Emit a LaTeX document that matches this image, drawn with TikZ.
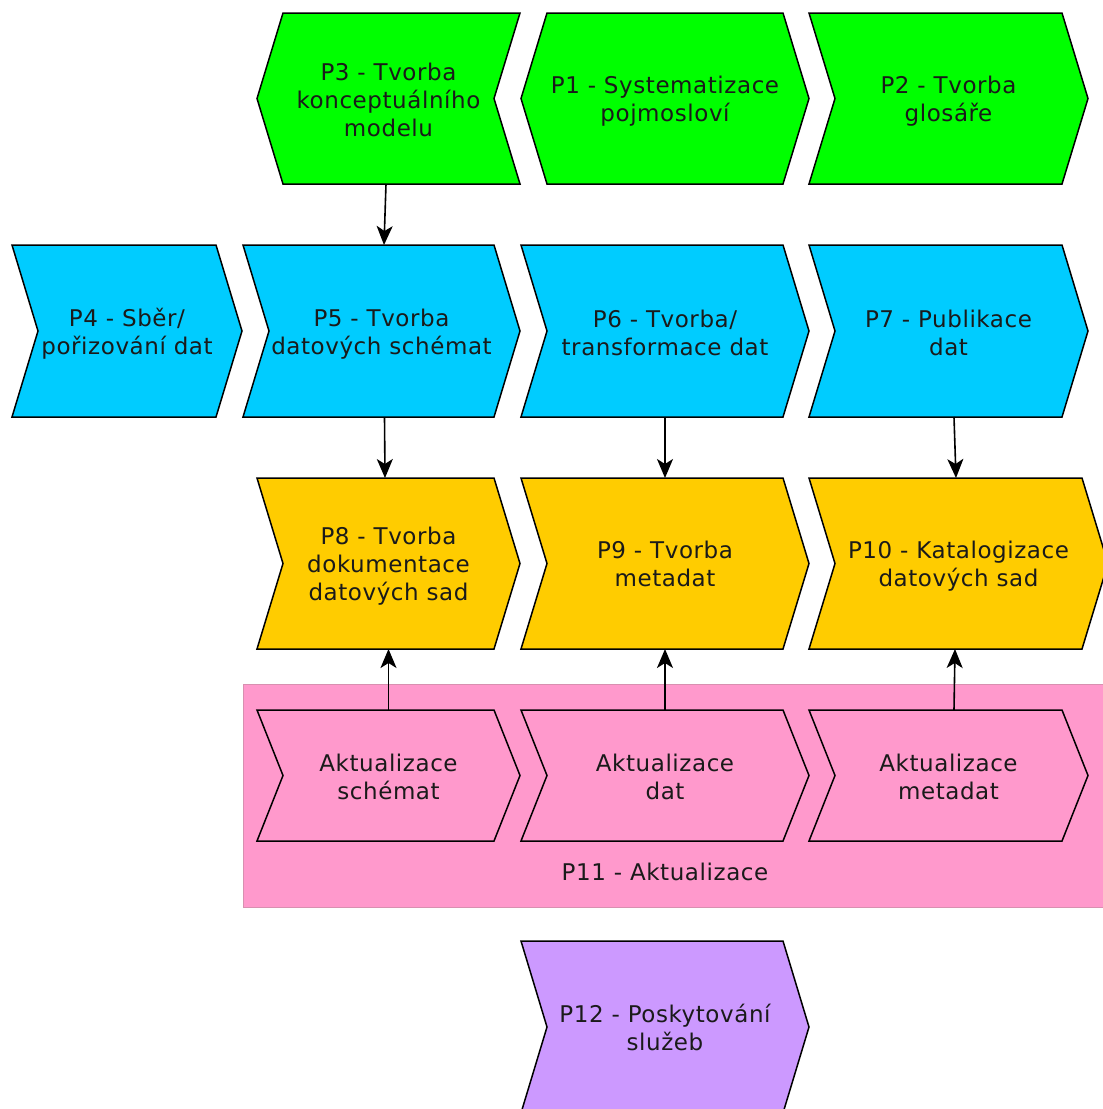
\documentclass[tikz,border=0pt]{standalone}
\usepackage{fontspec}
\setmainfont{DejaVu Sans}[LetterSpace=2.5]
\usetikzlibrary{arrows.meta}
\pgfdeclarelayer{bg}
\pgfsetlayers{bg,main}
\definecolor{cgreen}{HTML}{00FF00}
\definecolor{cblue}{HTML}{00CCFF}
\definecolor{cyellow}{HTML}{FFCC00}
\definecolor{cpink}{HTML}{FF99CC}
\definecolor{cpinkedge}{HTML}{D890B0}
\definecolor{cpurple}{HTML}{CC99FF}
\definecolor{ctext}{HTML}{1A1A1A}
\def\dd{26pt}
\tikzset{
  box/.style={inner sep=0pt, outer sep=0pt},
  txt/.style={inner sep=0pt, outer sep=0pt, align=center, text=ctext,
    font=\fontsize{23}{28}\selectfont},
  outline/.style={draw=black, line width=1.5pt, line join=miter},
  arr/.style={draw=black, line width=1.6pt, -{Stealth[length=19pt,width=16pt,inset=5pt]}},
  group/.style={fill=cpink, draw=cpinkedge, line width=1pt}
}
% #1 name, #2 x1, #3 x2, #4 ytop, #5 ybottom, #6 text, #7 text shift down
\newcommand\procnode[7]{%
  \node[box, minimum width={(#3-#2)*1pt}, minimum height={(#5-#4)*1pt}]
    (#1) at ({(#2+#3)/2},{(#4+#5)/2}) {};
  \node[txt] (#1t) at ({(#2+#3)/2},{(#4+#5)/2+#7}) {#6};}
% outline pointing right (notch left)
\newcommand\outR[2]{\draw[outline, fill=#2] (#1.north west) -- ([xshift=-\dd]#1.north east) -- (#1.east) -- ([xshift=-\dd]#1.south east) -- (#1.south west) -- ([xshift=\dd]#1.west) -- cycle;}
% hexagon
\newcommand\outH[2]{\draw[outline, fill=#2] ([xshift=\dd]#1.north west) -- ([xshift=-\dd]#1.north east) -- (#1.east) -- ([xshift=-\dd]#1.south east) -- ([xshift=\dd]#1.south west) -- (#1.west) -- cycle;}
% outline pointing left (notch right)
\newcommand\outL[2]{\draw[outline, fill=#2] ([xshift=\dd]#1.north west) -- (#1.north east) -- ([xshift=-\dd]#1.east) -- (#1.south east) -- ([xshift=\dd]#1.south west) -- (#1.west) -- cycle;}
\begin{document}
\begin{tikzpicture}[x=1pt,y=-1pt]
\useasboundingbox (0,0) rectangle (1103,1109);
% row 1
\procnode{p3}{257}{520}{13}{184}{P3 - Tvorba\\konceptuálního\\modelu}{1.5}
\procnode{p1}{521}{809}{13}{184}{P1 - Systematizace\\pojmosloví}{3}
\procnode{p2}{809}{1088}{13}{184}{P2 - Tvorba\\glosáře}{3}
% row 2
\procnode{p4}{12}{242}{245}{417}{P4 - Sběr/\\pořizování dat}{3}
\procnode{p5}{243}{520}{245}{417}{P5 - Tvorba\\datových schémat}{3}
\procnode{p6}{521}{809}{245}{417}{P6 - Tvorba/\\transformace dat}{2}
\procnode{p7}{809}{1088}{245}{417}{P7 - Publikace\\dat}{2}
% row 3
\procnode{p8}{257}{520}{478}{649}{P8 - Tvorba\\dokumentace\\datových sad}{3}
\procnode{p9}{521}{809}{478}{649}{P9 - Tvorba\\metadat}{0.5}
\procnode{p10}{809}{1108}{478}{649}{P10 - Katalogizace\\datových sad}{3}
% group P11 with its inner steps
\node[box, minimum width=880pt, minimum height=223pt] (p11) at (683,795.5) {};
\node[txt] (p11lbl) at (665,872) {P11 - Aktualizace};
\procnode{a1}{257}{520}{710}{841}{Aktualizace\\schémat}{1}
\procnode{a2}{521}{809}{710}{841}{Aktualizace\\dat}{1}
\procnode{a3}{809}{1088}{710}{841}{Aktualizace\\metadat}{1}
% row 5
\procnode{p12}{521}{809}{941}{1113}{P12 - Poskytování\\služeb}{0}
\begin{pgfonlayer}{bg}
\fill[white] (0,0) rectangle (1103,1109);
\draw[group] (p11.north west) rectangle (p11.south east);
\outL{p3}{cgreen}
\outH{p1}{cgreen}
\outR{p2}{cgreen}
\outR{p4}{cblue}
\outR{p5}{cblue}
\outR{p6}{cblue}
\outR{p7}{cblue}
\outR{p8}{cyellow}
\outR{p9}{cyellow}
\outR{p10}{cyellow}
\outR{a1}{cpink}
\outR{a2}{cpink}
\outR{a3}{cpink}
\outR{p12}{cpurple}
\end{pgfonlayer}
% connectors
\draw[arr] ([xshift=-2.5pt]p3.south) -- ([xshift=2.5pt]p5.north);
\draw[arr] ([xshift=3pt]p5.south) -- ([xshift=-3.5pt]p8.north);
\draw[arr] (p6.south) -- (p9.north);
\draw[arr] ([xshift=5.5pt]p7.south) -- ([xshift=-2.5pt]p10.north);
\draw[arr] (a1.north) -- (p8.south);
\draw[arr] (a2.north) -- (p9.south);
\draw[arr] ([xshift=5.5pt]a3.north) -- ([xshift=-3.5pt]p10.south);
\end{tikzpicture}
\end{document}
